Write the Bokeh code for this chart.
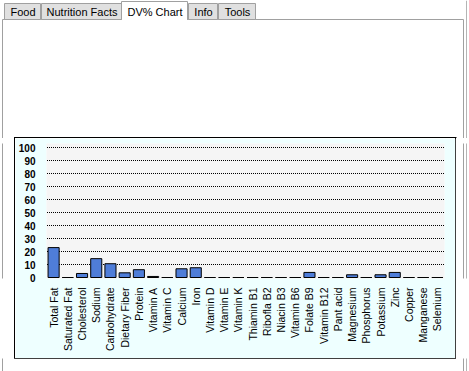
import math
from bokeh.plotting import figure
from bokeh.layouts import column, row
from bokeh.models import FixedTicker, ColumnDataSource, Range1d
from bokeh.embed import file_html
from bokeh.resources import INLINE
from bokeh.core.properties import value

# ---------------- data ----------------
nutrients = ["Total Fat", "Saturated Fat", "Cholesterol", "Sodium", "Carbohydrate",
             "Dietary Fiber", "Protein", "Vitamin A", "Vitamin C", "Calcium", "Iron",
             "Vitamin D", "Vitamin E", "Vitamin K", "Thiamin B1", "Ribofla B2",
             "Niacin B3", "Vitamin B6", "Folate B9", "Vitamin B12", "Pant acid",
             "Magnesium", "Phosphorus", "Potassium", "Zinc", "Copper", "Manganese",
             "Selenium"]
dv_percent = [23.0, 0, 3.1, 14.5, 10.6, 3.6, 6.0, 0.8, 0, 6.7, 7.5,
              0, 0, 0, 0, 0, 0, 0, 3.9, 0, 0,
              2.1, 0, 2.1, 3.9, 0, 0, 0]
y_ticks = [0, 10, 20, 30, 40, 50, 60, 70, 80, 90, 100]
tab_names = ["Food", "Nutrition Facts", "DV% Chart", "Info", "Tools"]
selected_tab = "DV% Chart"

# ---------------- layout constants (pixels) ----------------
W, H = 469, 371
FONT = "Liberation Sans"
BOX_L, BOX_R, BOX_T, BOX_B = 14, 455, 137, 358      # chart box border pixel rows/cols
PANEL_L, PANEL_R, PANEL_R2, PANEL_T = 2, 463, 466, 19
GRAY = "#a0a0a0"
GRAY2 = "#b4b4b4"
tab_edges = [(4, 40), (41, 121), (121, 187), (188, 217), (218, 255)]
FRAME_W = 398


def deco_fig(w, h):
    f = figure(width=w, height=h, output_backend="svg", toolbar_location=None,
               x_range=Range1d(0, w), y_range=Range1d(h, 0),
               x_axis_location=None, y_axis_location=None,
               min_border=0, min_border_left=0, min_border_right=0,
               min_border_top=0, min_border_bottom=0,
               outline_line_color=None, background_fill_color="white",
               border_fill_color="white")
    f.grid.visible = False
    return f


def vline_quads(f, xs, y0, y1, colors):
    f.quad(left=[x - 0.5 for x in xs], right=[x + 0.5 for x in xs],
           top=[y0] * len(xs), bottom=[y1] * len(xs),
           fill_color=colors, line_color=None)


# ---------------- top strip: tabs, panel border ----------------
top_h = BOX_T + 1
top = deco_fig(W, top_h)
top.segment(x0=[PANEL_R2], y0=[0], x1=[PANEL_R2], y1=[top_h], line_color=GRAY2, line_width=1)
top.segment(x0=[PANEL_L, PANEL_L, PANEL_R], y0=[PANEL_T, PANEL_T, PANEL_T],
            x1=[PANEL_R, PANEL_L, PANEL_R], y1=[PANEL_T, top_h, top_h],
            line_color=GRAY, line_width=1)
for name, (l, r) in zip(tab_names, tab_edges):
    sel = name == selected_tab
    t = 1 if sel else 3
    top.quad(left=[l], right=[r], top=[t], bottom=[PANEL_T],
             fill_color="white" if sel else "#e0e0e0", line_color=GRAY, line_width=1)
    if sel:
        top.quad(left=[l + 0.5], right=[r - 0.5], top=[17.5], bottom=[20.5],
                 fill_color="white", line_color=None)
    top.text(x=[(l + r) / 2 + 0.5], y=[11], text=[name], text_align="center",
             text_baseline="middle", text_font=value(FONT), text_font_size="11px",
             text_color="black")
top.segment(x0=[BOX_L], y0=[BOX_T], x1=[BOX_R + 1], y1=[BOX_T],
            line_color="black", line_width=1)

# ---------------- middle: left strip, chart, right strip ----------------
mid_y0 = BOX_T + 1
mid_h = BOX_B - mid_y0
left_w = BOX_L + 1
left = deco_fig(left_w, mid_h)
vline_quads(left, [PANEL_L, BOX_L], -1, mid_h + 1, [GRAY, "black"])

right_x0 = BOX_R
right_w = W - right_x0
right = deco_fig(right_w, mid_h)
vline_quads(right, [0, PANEL_R - right_x0, PANEL_R2 - right_x0], -1, mid_h + 1,
            ["black", GRAY, GRAY2])

chart_w = right_x0 - left_w
px_per_unit = 1.3
source = ColumnDataSource(dict(name=nutrients, dv=dv_percent))
p = figure(width=chart_w, height=mid_h, output_backend="svg", toolbar_location=None,
           x_range=nutrients,
           y_range=Range1d(-1 / px_per_unit, 134 / px_per_unit),
           min_border_left=31, min_border_right=chart_w - 31 - FRAME_W,
           min_border_top=5, min_border_bottom=mid_h - 5 - 135,
           border_fill_color="#EEFFFF", background_fill_color="#F5F5F5",
           outline_line_color=None)
p.styles = {"outline": "1px solid black"}

# dotted horizontal rules at the y ticks (start shifted half a pixel so dots are crisp)
half_px = 0.5 * len(nutrients) / FRAME_W
grid_y = y_ticks[1:]
p.segment(x0=[half_px] * len(grid_y), x1=[len(nutrients) - half_px] * len(grid_y),
          y0=grid_y, y1=grid_y, line_color="black", line_width=1, line_dash="1 1")

p.vbar(x="name", top="dv", bottom=0, width=0.78, source=source,
       fill_color="#4f7dd8", line_color="black", line_width=1)

p.yaxis.ticker = FixedTicker(ticks=y_ticks)
p.yaxis.axis_line_color = None
p.yaxis.major_tick_line_color = None
p.yaxis.minor_tick_line_color = None
p.yaxis.major_label_standoff = 5
p.yaxis.major_label_text_font = FONT
p.yaxis.major_label_text_font_style = "bold"
p.yaxis.major_label_text_font_size = "10px"
p.yaxis.major_label_text_color = "#000000"

p.xaxis.axis_line_color = None
p.xaxis.major_tick_line_color = None
p.xaxis.minor_tick_line_color = None
p.xaxis.major_label_orientation = math.pi / 2
p.xaxis.major_label_standoff = 3
p.xaxis.major_label_text_font = FONT
p.xaxis.major_label_text_font_size = "10.5px"
p.xaxis.major_label_text_color = "#000000"

p.xgrid.grid_line_color = None
p.ygrid.grid_line_color = None

# ---------------- bottom strip ----------------
bot_h = H - BOX_B
bottom = deco_fig(W, bot_h)
bottom.quad(left=[BOX_L - 0.5], right=[BOX_R + 0.5], top=[-0.5], bottom=[0.5],
            fill_color="black", line_color=None)
vline_quads(bottom, [PANEL_L, PANEL_R, PANEL_R2], -1, bot_h + 1, [GRAY, GRAY, GRAY2])

layout = column(top, row(left, p, right), bottom)
open("out.html", "w").write(file_html(layout, INLINE))
